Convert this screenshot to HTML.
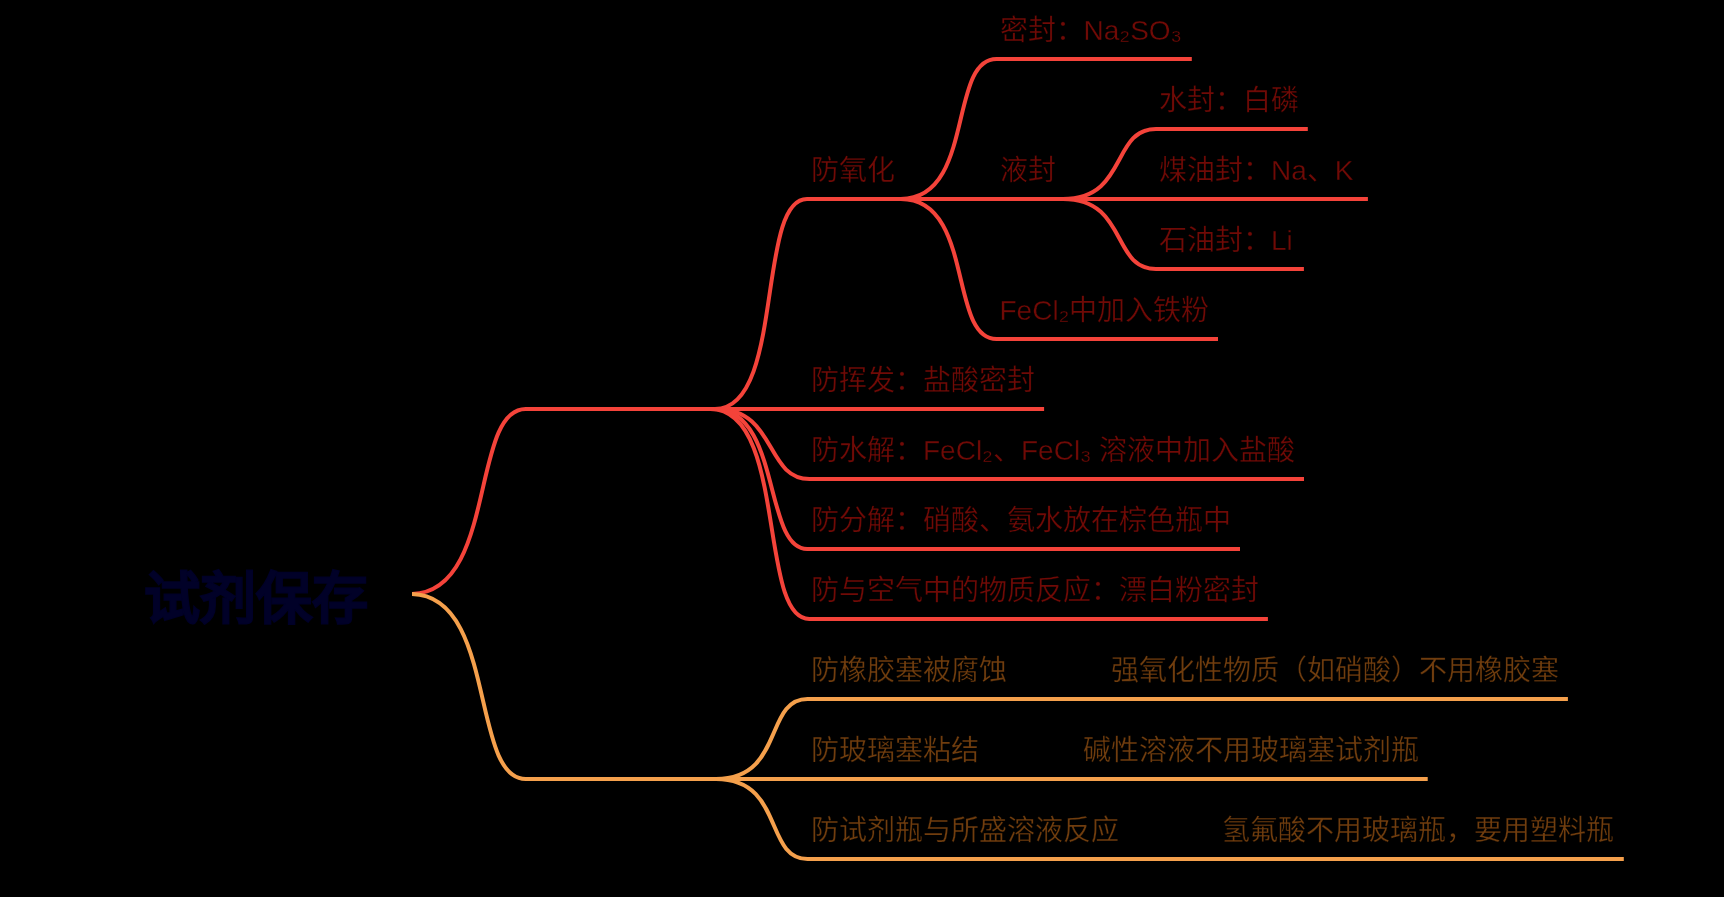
<!DOCTYPE html>
<html lang="zh-CN"><head><meta charset="utf-8">
<style>
html,body{margin:0;padding:0;background:#000;width:1724px;height:897px;overflow:hidden}
svg{display:block;will-change:transform}
text{font-family:"Liberation Sans",sans-serif;font-size:28px}
.r{fill:#700a06;stroke:#000;stroke-width:0.3px}
.o{fill:#703d0e;stroke:#000;stroke-width:0.3px}
.root{font-size:56px;font-weight:bold;fill:#010128;stroke:#010128;stroke-width:1.5px;paint-order:stroke}
path{fill:none;stroke-width:4}
</style></head><body>
<svg width="1724" height="897" viewBox="0 0 1724 897">
<defs><clipPath id="cr"><rect x="412" y="0" width="1400" height="897"/></clipPath></defs>
<text class="root" x="144" y="618">试剂保存</text>
<path d="M410.7 594 C497.2 594 470.0 409 525.7 409 L1044.1 409" stroke="#f4433a" clip-path="url(#cr)"/>
<path d="M715.0 409 C785.0 409 756.0 199 807.0 199 L1367.9 199" stroke="#f4433a"/>
<path d="M716.0 409 C777.0 409 764.9 479 809.5 479 L1304.0 479" stroke="#f4433a"/>
<path d="M714.0 409 C781.6 409 763.1 549 807.2 549 L1240.0 549" stroke="#f4433a"/>
<path d="M710.3 409 C787.7 409 757.6 619 809.3 619 L1267.9 619" stroke="#f4433a"/>
<path d="M900.8 199 C975.0 199 948.0 59 996.5 59 L1191.8 59" stroke="#f4433a"/>
<path d="M900.8 199 C975.0 199 948.0 339 996.5 339 L1218.0 339" stroke="#f4433a"/>
<path d="M1063.0 199 C1128.0 199 1111.0 129 1156.0 129 L1307.8 129" stroke="#f4433a"/>
<path d="M1063.0 199 C1128.0 199 1111.0 269 1156.0 269 L1303.9 269" stroke="#f4433a"/>
<path d="M410.7 594 C497.2 594 470.0 779 525.7 779 L1427.7 779" stroke="#f5a04c" clip-path="url(#cr)"/>
<path d="M716.0 779 C784.5 779 764.0 699 807.5 699 L1567.9 699" stroke="#f5a04c"/>
<path d="M716.0 779 C784.5 779 764.0 859 807.5 859 L1623.8 859" stroke="#f5a04c"/>
<text class="r" x="811" y="180.3">防氧化</text>
<text class="r" x="999.5" y="40.3">密封：Na₂SO₃</text>
<text class="r" x="999.5" y="180.3">液封</text>
<text class="r" x="999.5" y="320.3">FeCl₂中加入铁粉</text>
<text class="r" x="1159" y="110.3">水封：白磷</text>
<text class="r" x="1159" y="180.3">煤油封：Na、K</text>
<text class="r" x="1159" y="250.3">石油封：Li</text>
<text class="r" x="811" y="390.3">防挥发：盐酸密封</text>
<text class="r" x="811" y="460.3">防水解：FeCl₂、FeCl₃ 溶液中加入盐酸</text>
<text class="r" x="811" y="530.3">防分解：硝酸、氨水放在棕色瓶中</text>
<text class="r" x="811" y="600.3">防与空气中的物质反应：漂白粉密封</text>
<text class="o" x="811" y="680.3">防橡胶塞被腐蚀</text>
<text class="o" x="1111" y="680.3">强氧化性物质（如硝酸）不用橡胶塞</text>
<text class="o" x="811" y="760.3">防玻璃塞粘结</text>
<text class="o" x="1083" y="760.3">碱性溶液不用玻璃塞试剂瓶</text>
<text class="o" x="811" y="840.3">防试剂瓶与所盛溶液反应</text>
<text class="o" x="1222" y="840.3">氢氟酸不用玻璃瓶，要用塑料瓶</text>
</svg>
</body></html>
